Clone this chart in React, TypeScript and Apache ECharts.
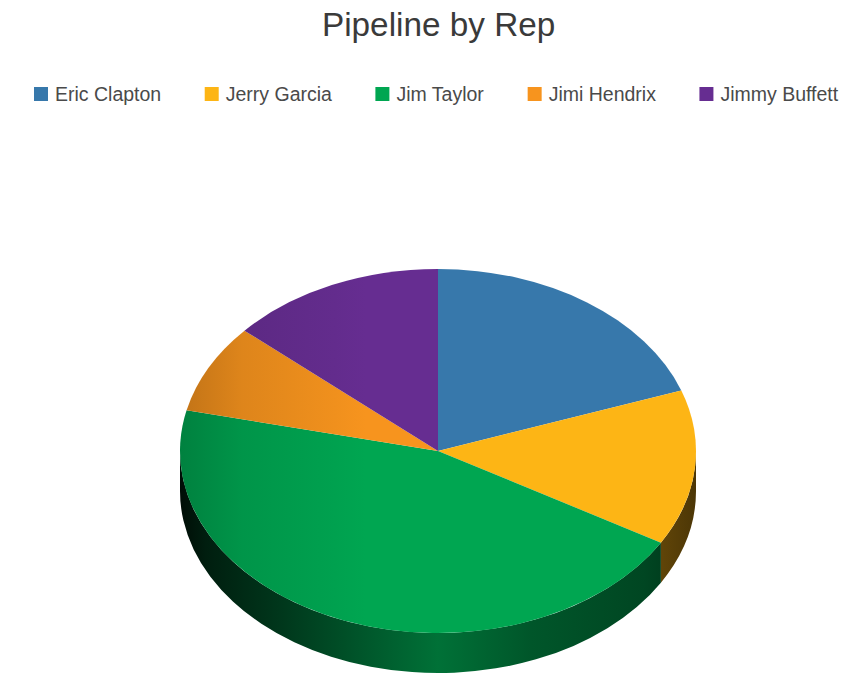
import React, { useEffect, useRef } from "react";
import * as echarts from "echarts";

const titleText = "Pipeline by Rep";
const reps = ["Eric Clapton", "Jerry Garcia", "Jim Taylor", "Jimi Hendrix", "Jimmy Buffett"];
const pipelineValues = [19.6, 13.8, 45.2, 7.9, 13.5];
const repColors = ["#3778ab", "#fdb515", "#00a651", "#f7941e", "#662d91"];

const CX = 438;
const CY = 451;
const RX = 258;
const RY = 182;
const DEPTH = 40;

const total = pipelineValues.reduce((a, b) => a + b, 0);

function shade(hex: string, k: number): string {
  const n = parseInt(hex.slice(1), 16);
  const r = Math.round(((n >> 16) & 255) * k);
  const g = Math.round(((n >> 8) & 255) * k);
  const b = Math.round((n & 255) * k);
  return `rgb(${r},${g},${b})`;
}

function pt(theta: number, dy = 0): [number, number] {
  return [CX + RX * Math.sin(theta), CY - RY * Math.cos(theta) + dy];
}

function facePath(a0: number, a1: number): string {
  const [x0, y0] = pt(a0);
  const [x1, y1] = pt(a1);
  const large = a1 - a0 > Math.PI ? 1 : 0;
  return `M${CX} ${CY}L${x0} ${y0}A${RX} ${RY} 0 ${large} 1 ${x1} ${y1}Z`;
}

function sidePath(a0: number, a1: number): string | null {
  const s = Math.max(a0, Math.PI / 2);
  const e = Math.min(a1, (Math.PI * 3) / 2);
  if (e <= s) return null;
  const [x0, y0] = pt(s);
  const [x1, y1] = pt(e);
  const [x2, y2] = pt(e, DEPTH);
  const [x3, y3] = pt(s, DEPTH);
  return `M${x0} ${y0}A${RX} ${RY} 0 0 1 ${x1} ${y1}L${x2} ${y2}A${RX} ${RY} 0 0 0 ${x3} ${y3}Z`;
}

function faceFill(color: string) {
  return new echarts.graphic.LinearGradient(
    CX - RX, 0, CX + RX, 0,
    [
      { offset: 0, color: shade(color, 0.78) },
      { offset: 0.12, color: shade(color, 0.9) },
      { offset: 0.3, color: shade(color, 0.97) },
      { offset: 0.36, color: shade(color, 1) },
      { offset: 1, color: shade(color, 1) },
    ],
    true
  );
}

function sideFill(color: string) {
  return new echarts.graphic.LinearGradient(
    CX - RX, 0, CX + RX, 0,
    [
      { offset: 0, color: shade(color, 0.08) },
      { offset: 0.05, color: shade(color, 0.18) },
      { offset: 0.2, color: shade(color, 0.34) },
      { offset: 0.38, color: shade(color, 0.55) },
      { offset: 0.5, color: shade(color, 0.68) },
      { offset: 0.68, color: shade(color, 0.52) },
      { offset: 0.9, color: shade(color, 0.42) },
      { offset: 1, color: shade(color, 0.3) },
    ],
    true
  );
}

export default function App() {
  const ref = useRef<HTMLDivElement>(null);

  useEffect(() => {
    const chart = echarts.init(ref.current!, undefined, { renderer: "svg" });
    let cum = 0;
    const series = reps.map((name, i) => {
      const v = pipelineValues[i];
      const a0 = (cum / total) * Math.PI * 2;
      cum += v;
      const a1 = (cum / total) * Math.PI * 2;
      const color = repColors[i];
      return {
        type: "custom",
        name,
        coordinateSystem: "none",
        silent: true,
        itemStyle: { color },
        data: [v],
        renderItem: () => {
          const children: any[] = [];
          const side = sidePath(a0, a1);
          if (side) {
            children.push({
              type: "path",
              shape: { pathData: side },
              style: { fill: sideFill(color) },
            });
          }
          children.push({
            type: "path",
            shape: { pathData: facePath(a0, a1) },
            style: { fill: faceFill(color) },
          });
          return { type: "group", children };
        },
      };
    });

    chart.setOption({
      animation: false,
      backgroundColor: "#ffffff",
      title: {
        text: titleText,
        left: 322,
        top: 8,
        padding: 0,
        textStyle: {
          fontFamily: "Liberation Sans",
          fontSize: 33.3,
          fontWeight: "normal",
          color: "#3a3a3a",
        },
      },
      legend: {
        data: reps.map((name, i) =>
          i === 2 ? { name, textStyle: { padding: [0, 4, 0, 2] } } : { name }
        ),
        left: 34,
        top: 84,
        padding: 0,
        icon: "rect",
        itemWidth: 14,
        itemHeight: 14,
        itemGap: 43.5,
        textStyle: {
          fontFamily: "Liberation Sans",
          fontSize: 19.5,
          color: "#4a4a4a",
          padding: [0, 0, 0, 2],
        },
      },
      series,
    });
    return () => chart.dispose();
  }, []);

  return (
    <div
      ref={ref}
      style={{ position: "absolute", left: 0, top: 0, width: 861, height: 698 }}
    />
  );
}
